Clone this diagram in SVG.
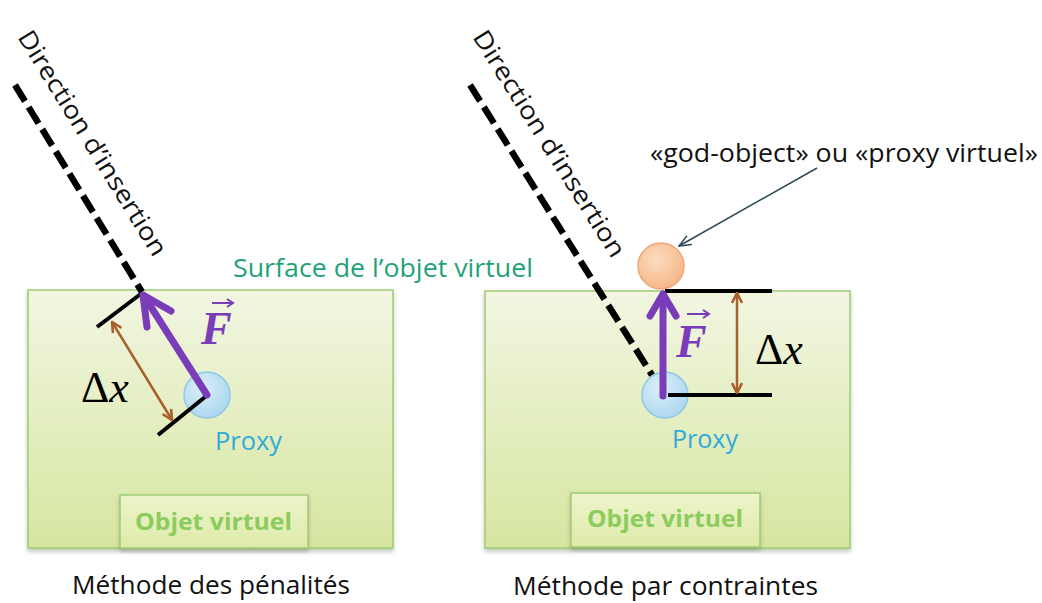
<svg xmlns="http://www.w3.org/2000/svg" width="1042" height="603" viewBox="0 0 1042 603">
<defs>
<linearGradient id="boxg" x1="0" y1="0" x2="0" y2="1">
<stop offset="0" stop-color="#F2F6E2"/>
<stop offset="1" stop-color="#D6E6A0"/>
</linearGradient>
<linearGradient id="innerg" x1="0" y1="0" x2="0" y2="1">
<stop offset="0" stop-color="#EEF4CC"/>
<stop offset="1" stop-color="#DDEAA8"/>
</linearGradient>
<radialGradient id="blueg" cx="0.4" cy="0.35" r="0.7">
<stop offset="0" stop-color="#DDEFF9"/>
<stop offset="1" stop-color="#A9D6EF"/>
</radialGradient>
<radialGradient id="orangeg" cx="0.4" cy="0.35" r="0.7">
<stop offset="0" stop-color="#FCDCC0"/>
<stop offset="1" stop-color="#F6B585"/>
</radialGradient>
<filter id="shadow" x="-5%" y="-5%" width="110%" height="115%">
<feDropShadow dx="0" dy="3" stdDeviation="2" flood-color="#556644" flood-opacity="0.35"/>
</filter>
<marker id="brownhead" viewBox="0 0 12 12" refX="11" refY="6" markerWidth="12" markerHeight="12" markerUnits="userSpaceOnUse" orient="auto-start-reverse">
<path d="M1,1 L11,6 L1,11" fill="none" stroke="#A8602C" stroke-width="2.6"/>
</marker>
<marker id="thinhead" viewBox="0 0 14 12" refX="13" refY="6" markerWidth="14" markerHeight="12" markerUnits="userSpaceOnUse" orient="auto">
<path d="M1,1 L13,6 L1,11" fill="none" stroke="#2E4A58" stroke-width="1.5"/>
</marker>
</defs>
<style>
.box{fill:url(#boxg);stroke:#9CCB74;stroke-width:1.5;filter:url(#shadow)}
.inner{fill:url(#innerg);stroke:#9CCB74;stroke-width:1.5;filter:url(#shadow)}
.dash{stroke:#000;stroke-width:6.5;stroke-dasharray:19 7;fill:none}
.bar{stroke:#000;stroke-width:4;fill:none}
.force{stroke:#7A3CB8;stroke-width:7;fill:none;stroke-linecap:round;stroke-linejoin:round}
.dx{stroke:#A8602C;stroke-width:2.5;fill:none}
.sans{font-family:"Open Sans","Noto Sans","Liberation Sans",sans-serif}
.dir{font-size:25px;fill:#111}
.surf{font-size:26px;fill:#1FA27A}
.proxy{font-size:25px;fill:#30AADA}
.obj{font-size:23px;font-weight:bold;fill:#8CCB5E}
.title{font-size:26px;fill:#111}
.note{font-size:26px;fill:#111}
.math{font-family:"Liberation Serif","Times New Roman",serif;font-size:44px;fill:#000}
.fvec{font-family:"Liberation Serif","Times New Roman",serif;font-size:46px;font-weight:bold;font-style:italic;fill:#7A3CB8}
.varrow{stroke:#7A3CB8;stroke-width:2;fill:none}
</style>

<g id="left-panel">
<rect class="box" x="28" y="290" width="365" height="258"/>
</g>
<g id="right-panel">
<rect class="box" x="485" y="291" width="365" height="257"/>
</g>
<g id="left-object">
<rect class="inner" x="120" y="495" width="188" height="53"/>
<text class="sans obj" x="135" y="530" textLength="157" lengthAdjust="spacingAndGlyphs">Objet virtuel</text>
</g>
<g id="right-object">
<rect class="inner" x="571" y="493" width="189" height="54"/>
<text class="sans obj" x="587" y="527" textLength="156" lengthAdjust="spacingAndGlyphs">Objet virtuel</text>
</g>

<g id="left-proxy">
<circle cx="207" cy="395" r="23" fill="url(#blueg)" stroke="#8FC8E6" stroke-width="1.5"/>
<text class="sans proxy" x="215" y="450" textLength="67" lengthAdjust="spacingAndGlyphs">Proxy</text>
</g>
<g id="right-proxy">
<circle cx="665" cy="395" r="23" fill="url(#blueg)" stroke="#8FC8E6" stroke-width="1.5"/>
<text class="sans proxy" x="672" y="448" textLength="66" lengthAdjust="spacingAndGlyphs">Proxy</text>
</g>
<g id="god-object">
<circle cx="661" cy="266" r="23" fill="url(#orangeg)" stroke="#EFA77A" stroke-width="1.5"/>
</g>

<g id="connectors">
<line class="dash" x1="15" y1="85" x2="142" y2="292"/>
<line class="dash" x1="470" y1="85" x2="652" y2="375"/>
<line class="bar" x1="142" y1="293" x2="97" y2="327"/>
<line class="bar" x1="205" y1="397" x2="158" y2="435"/>
<line class="bar" x1="665" y1="291" x2="772" y2="291"/>
<line class="bar" x1="668" y1="395" x2="772" y2="395"/>
<line class="dx" x1="112" y1="322" x2="172" y2="420" marker-start="url(#brownhead)" marker-end="url(#brownhead)"/>
<line class="dx" x1="737" y1="293" x2="737" y2="393" marker-start="url(#brownhead)" marker-end="url(#brownhead)"/>
<line class="force" x1="207" y1="395" x2="144" y2="296"/>
<polyline class="force" points="147,327 143,295 171,311"/>
<line class="force" x1="663" y1="396" x2="663" y2="295"/>
<polyline class="force" points="650,316 663,294 676,316"/>
<line x1="817" y1="168" x2="679" y2="246" stroke="#2E4A58" stroke-width="1.5" marker-end="url(#thinhead)"/>
</g>

<g id="labels">
<text class="sans dir" transform="translate(17,37) rotate(58.3)" textLength="260" lengthAdjust="spacingAndGlyphs">Direction d’insertion</text>
<text class="sans dir" transform="translate(472,37) rotate(57.8)" textLength="263" lengthAdjust="spacingAndGlyphs">Direction d’insertion</text>
<text class="sans surf" x="233" y="277" textLength="300" lengthAdjust="spacingAndGlyphs">Surface de l’objet virtuel</text>
<text class="sans note" x="650" y="162" textLength="388" lengthAdjust="spacingAndGlyphs">«god-object» ou «proxy virtuel»</text>
<text class="math" x="81" y="402">Δ<tspan font-style="italic">x</tspan></text>
<text class="math" x="755" y="364">Δ<tspan font-style="italic">x</tspan></text>
<text class="fvec" x="201" y="344">F</text>
<path class="varrow" d="M212,303 L232,303 M227,299 L233,303 L227,307"/>
<text class="fvec" x="676" y="357">F</text>
<path class="varrow" d="M687,314 L708,314 M703,310 L709,314 L703,318"/>
<text class="sans title" x="72" y="594" textLength="278" lengthAdjust="spacingAndGlyphs">Méthode des pénalités</text>
<text class="sans title" x="513" y="595" textLength="305" lengthAdjust="spacingAndGlyphs">Méthode par contraintes</text>
</g>
</svg>
